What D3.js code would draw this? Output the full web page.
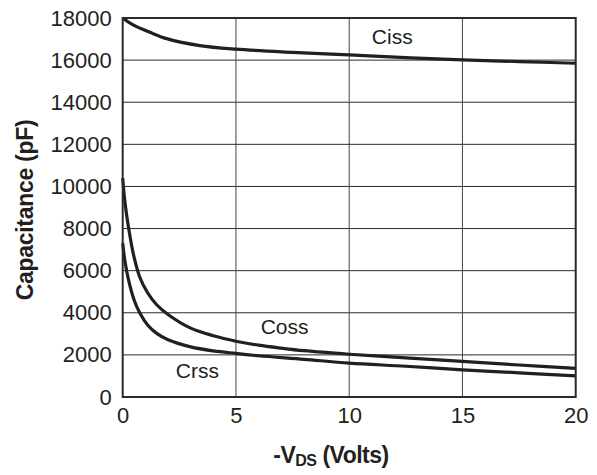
<!DOCTYPE html>
<html>
<head>
<meta charset="utf-8">
<script src="https://cdn.jsdelivr.net/npm/d3@7"></script>
<style>
  html, body { margin: 0; padding: 0; background: #fff; }
  svg { display: block; font-family: "Liberation Sans", Arial, Helvetica, sans-serif; }
</style>
</head>
<body>
<svg id="chart" width="597" height="475"></svg>
<script>
// Drain-source voltage (V) sample points and capacitance readings (pF)
const vdsCoss = [0, 0.1, 0.25, 0.5, 0.75, 1.1, 1.5, 2, 3, 4, 5, 6, 7, 8, 10, 12.5, 15, 17.5, 20];
const coss    = [10400, 9250, 8100, 6650, 5700, 4950, 4380, 3920, 3270, 2910, 2650, 2460, 2320, 2200, 2030, 1860, 1690, 1520, 1360];

const vdsCrss = [0, 0.1, 0.25, 0.5, 0.75, 1.1, 1.5, 2, 3, 4, 5, 6, 8, 10, 12.5, 15, 17.5, 20];
const crss    = [7300, 6450, 5600, 4620, 4000, 3420, 3020, 2720, 2380, 2190, 2070, 1960, 1790, 1610, 1460, 1290, 1150, 1000];

const vdsCiss = [0, 0.46, 1.2, 1.94, 3.4, 5, 7.5, 10, 12.5, 15, 17.5, 20];
const ciss    = [18000, 17670, 17320, 17020, 16690, 16520, 16370, 16250, 16120, 16010, 15930, 15850];

const xTicks = [0, 5, 10, 15, 20];
const yTicks = [0, 2000, 4000, 6000, 8000, 10000, 12000, 14000, 16000, 18000];

const seriesLabels = [
  { name: "Ciss", x: 11.9, y: 16750 },
  { name: "Coss", x: 7.15, y: 2970 },
  { name: "Crss", x: 3.3, y: 900 }
];

const svg = d3.select("#chart");
const margin = { left: 122.7, right: 597 - 575.7, top: 18, bottom: 475 - 397 };
const W = 597 - margin.left - margin.right;
const H = 475 - margin.top - margin.bottom;

const x = d3.scaleLinear().domain([0, 20]).range([margin.left, margin.left + W]);
const y = d3.scaleLinear().domain([0, 18000]).range([margin.top + H, margin.top]);

const ink = "#231f20";

// grid
const grid = svg.append("g");
grid.selectAll("line.h").data(yTicks.slice(1, -1)).join("line")
  .attr("x1", x(0)).attr("x2", x(20))
  .attr("y1", d => y(d)).attr("y2", d => y(d))
  .attr("stroke", "#2b2b2b").attr("stroke-width", 1);
grid.selectAll("line.v").data(xTicks.slice(1, -1)).join("line")
  .attr("y1", y(0)).attr("y2", y(18000))
  .attr("x1", d => x(d)).attr("x2", d => x(d))
  .attr("stroke", "#444").attr("stroke-width", 1);

// curves
const line = d3.line().x(d => x(d[0])).y(d => y(d[1])).curve(d3.curveCatmullRom.alpha(0.5));
const series = [
  d3.zip(vdsCiss, ciss),
  d3.zip(vdsCoss, coss),
  d3.zip(vdsCrss, crss)
];
svg.append("g").selectAll("path").data(series).join("path")
  .attr("d", line)
  .attr("fill", "none")
  .attr("stroke", ink)
  .attr("stroke-width", 3.2)
  .attr("stroke-linejoin", "round");

// frame
svg.append("rect")
  .attr("x", x(0)).attr("y", y(18000))
  .attr("width", x(20) - x(0)).attr("height", y(0) - y(18000))
  .attr("fill", "none").attr("stroke", "#2a2a2a").attr("stroke-width", 2);

// axes (labels only; frame and grid drawn above)
const xAxis = d3.axisBottom(x).tickValues(xTicks).tickSize(0).tickPadding(10).tickFormat(d3.format("d"));
const gx = svg.append("g").attr("transform", `translate(0,${y(0)})`).call(xAxis);
gx.select(".domain").remove();
gx.selectAll("text").attr("font-size", 22).attr("fill", ink).attr("font-family", null);

const yAxis = d3.axisLeft(y).tickValues(yTicks).tickSize(0).tickPadding(11).tickFormat(d3.format("d"));
const gy = svg.append("g").attr("transform", `translate(${x(0)},0)`).call(yAxis);
gy.select(".domain").remove();
gy.selectAll("text").attr("font-size", 22).attr("fill", ink).attr("font-family", null);

// series labels
svg.append("g").selectAll("text").data(seriesLabels).join("text")
  .attr("x", d => x(d.x)).attr("y", d => y(d.y))
  .attr("text-anchor", "middle")
  .attr("font-size", 21)
  .attr("fill", ink)
  .text(d => d.name);

// axis titles
svg.append("text")
  .attr("transform", "translate(33,210) rotate(-90)")
  .attr("text-anchor", "middle")
  .attr("font-size", 23)
  .attr("font-weight", "bold")
  .attr("letter-spacing", -0.3)
  .attr("fill", ink)
  .text("Capacitance (pF)");

const xt = svg.append("text")
  .attr("x", 331).attr("y", 463)
  .attr("text-anchor", "middle")
  .attr("font-size", 23)
  .attr("font-weight", "bold")
  .attr("letter-spacing", -0.5)
  .attr("fill", ink);
xt.append("tspan").text("-V");
xt.append("tspan").attr("font-size", 16).attr("dy", 3).text("DS");
xt.append("tspan").attr("dy", -3).text(" (Volts)");
</script>
</body>
</html>
